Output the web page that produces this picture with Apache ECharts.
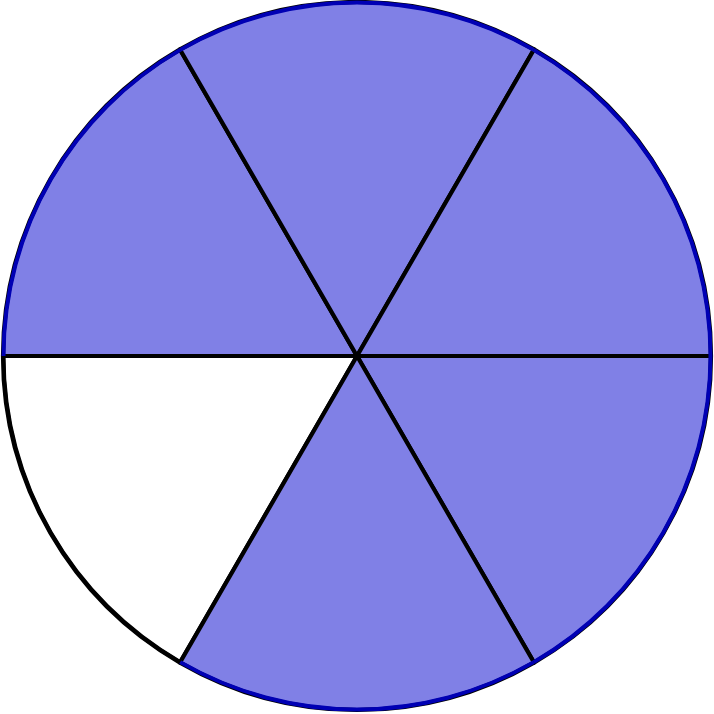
<!DOCTYPE html>
<html><head><meta charset="utf-8">
<script src="https://cdn.jsdelivr.net/npm/echarts@6/dist/echarts.min.js"></script>
<style>html,body{margin:0;padding:0;background:#fff}#c{width:714px;height:714px}</style>
</head><body><div id="c"></div>
<script>
const sliceNames = ['s1','s2','s3','s4','s5','s6'];
const sliceValues = [1,1,1,1,1,1];
const sliceShaded = [false,true,true,true,true,true];

const fillShaded = '#8080e6', fillEmpty = '#ffffff';
const rimShaded = '#0000b4', rimEmpty = '#000000';

const chart = echarts.init(document.getElementById('c'), null, {renderer:'canvas'});
chart.setOption({
  animation:false,
  series:[
    {
      type:'pie', center:[357,356], radius:[0,354], startAngle:240, clockwise:true,
      label:{show:false}, labelLine:{show:false}, silent:true,
      data: sliceNames.map((n,i)=>({name:n, value:sliceValues[i],
        itemStyle:{color: sliceShaded[i]?fillShaded:fillEmpty, borderColor:'#000', borderWidth:4.2}}))
    },
    {
      type:'pie', center:[357,356], radius:[351.5,355.5], startAngle:240, clockwise:true,
      label:{show:false}, labelLine:{show:false}, silent:true,
      data: sliceNames.map((n,i)=>({name:n, value:sliceValues[i],
        itemStyle:{color: sliceShaded[i]?rimShaded:rimEmpty, borderWidth:0}}))
    }
  ]
});
</script></body></html>
